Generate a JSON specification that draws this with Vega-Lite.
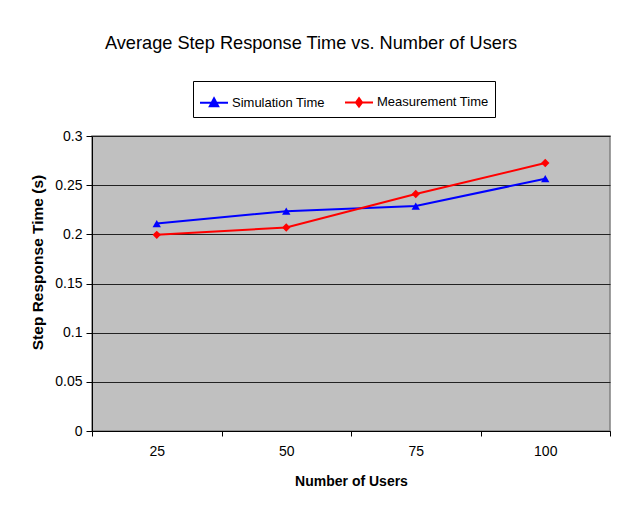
{
  "$schema": "https://vega.github.io/schema/vega-lite/v6.json",
  "autosize": {"type": "none"},
  "width": 518,
  "height": 295,
  "padding": {"left": 92, "top": 136, "right": 11, "bottom": 85},
  "background": "white",
  "title": {
    "text": "Average Step Response Time vs. Number of Users",
    "font": "Liberation Sans",
    "fontSize": 18.2,
    "fontWeight": "normal",
    "color": "black",
    "anchor": "middle",
    "dx": -40,
    "offset": 27
  },
  "data": {
    "values": [
      {"users": "25", "series": "Simulation Time", "time": 0.211},
      {"users": "50", "series": "Simulation Time", "time": 0.2235},
      {"users": "75", "series": "Simulation Time", "time": 0.2288},
      {"users": "100", "series": "Simulation Time", "time": 0.2566},
      {"users": "25", "series": "Measurement Time", "time": 0.1995},
      {"users": "50", "series": "Measurement Time", "time": 0.207},
      {"users": "75", "series": "Measurement Time", "time": 0.241},
      {"users": "100", "series": "Measurement Time", "time": 0.2725}
    ]
  },
  "encoding": {
    "x": {
      "field": "users",
      "type": "ordinal",
      "sort": ["25", "50", "75", "100"],
      "bandPosition": 0.5,
      "scale": {"type": "band", "paddingInner": 0, "paddingOuter": 0},
      "axis": {
        "title": "Number of Users",
        "labelAngle": 0,
        "tickBand": "extent",
        "grid": false,
        "domainColor": "black",
        "tickColor": "black",
        "tickSize": 5,
        "labelFont": "Liberation Sans",
        "labelFontSize": 14,
        "labelColor": "black",
        "labelPadding": 8,
        "titleFont": "Liberation Sans",
        "titleFontSize": 14,
        "titleFontWeight": "bold",
        "titleColor": "black",
        "titlePadding": 16
      }
    },
    "y": {
      "field": "time",
      "type": "quantitative",
      "scale": {"domain": [0, 0.3], "nice": false},
      "axis": {
        "title": "Step Response Time (s)",
        "values": [0, 0.05, 0.1, 0.15, 0.2, 0.25, 0.3],
        "format": "~g",
        "grid": true,
        "gridColor": "#222222",
        "gridOpacity": 1,
        "domainColor": "black",
        "tickColor": "black",
        "tickSize": 6,
        "labelFont": "Liberation Sans",
        "labelFontSize": 14,
        "labelColor": "black",
        "labelPadding": 4,
        "titleFont": "Liberation Sans",
        "titleFontSize": 15.5,
        "titleFontWeight": "bold",
        "titleColor": "black",
        "titleX": -55,
        "titleY": 126,
        "titleBaseline": "middle"
      }
    },
    "color": {
      "field": "series",
      "type": "nominal",
      "scale": {"domain": ["Simulation Time", "Measurement Time"], "range": ["#0000ff", "#ff0000"]},
      "legend": {
        "title": null,
        "orient": "none",
        "direction": "horizontal",
        "legendX": 101,
        "legendY": -55,
        "strokeColor": "black",
        "padding": 6,
        "fillColor": "white",
        "labelFont": "Liberation Sans",
        "labelFontSize": 13,
        "labelColor": "black",
        "symbolSize": 784,
        "symbolStrokeWidth": 2,
        "columnPadding": 16,
        "labelOffset": 3,
        "labelLimit": 200,
        "encode": {
          "symbols": {
            "update": {
              "shape": {"signal": "datum.value === 'Simulation Time' ? 'M-1,0H1M0,-0.32L0.3,0.24L-0.3,0.24Z' : 'M-1,0H1M0,-0.3L0.22,0L0,0.3L-0.22,0Z'"},
              "fillOpacity": {"value": 1},
              "strokeWidth": {"value": 2}
            }
          }
        }
      }
    }
  },
  "layer": [
    {"mark": {"type": "line", "strokeWidth": 2}},
    {
      "mark": {"type": "point", "filled": true, "opacity": 1},
      "encoding": {
        "shape": {
          "condition": {"test": "datum.series === 'Simulation Time'", "value": "triangle-up"},
          "value": "diamond"
        },
        "size": {"value": 70}
      }
    }
  ],
  "config": {
    "view": {"fill": "#c0c0c0", "stroke": "#808080", "strokeWidth": 1.5}
  }
}
